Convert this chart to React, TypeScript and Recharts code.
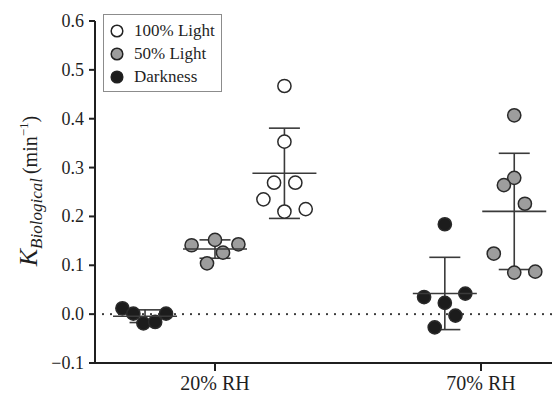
import React from 'react';
import { ScatterChart, Scatter, XAxis, YAxis, ErrorBar, ReferenceLine, Legend } from 'recharts';

// Categories (x axis) and y ticks
const categories = ['20% RH', '70% RH'];
const categoryTicks = [1, 2];
const yTicks = [-0.1, 0, 0.1, 0.2, 0.3, 0.4, 0.5, 0.6];

// Series names
const seriesNames = ['100% Light', '50% Light', 'Darkness'];

// Values (K_Biological, min^-1)
const light100RH20 = [0.467, 0.353, 0.269, 0.269, 0.235, 0.210, 0.215];
const light50RH20 = [0.141, 0.152, 0.143, 0.126, 0.104];
const darkRH20 = [0.012, 0.001, -0.019, -0.016, 0.001];
const darkRH70 = [0.184, 0.035, 0.042, 0.023, -0.003, -0.027];
const light50RH70 = [0.407, 0.279, 0.264, 0.226, 0.124, 0.085, 0.087];

// Horizontal jitter of each point (x-axis units) as in the picture
const light100RH20Jitter = [0, 0, -0.039, 0.041, -0.079, 0, 0.080];
const light50RH20Jitter = [-0.088, 0, 0.088, 0.030, -0.030];
const darkRH20Jitter = [-0.085, -0.044, -0.006, 0.038, 0.079];
const darkRH70Jitter = [0, -0.078, 0.077, 0, 0.040, -0.038];
const light50RH70Jitter = [0, 0, -0.039, 0.040, -0.077, 0, 0.079];

// Group centre offsets from the category (x-axis units)
const groupOffsetRH20 = { light100: 0.261, light50: 0, dark: -0.263 };
const groupOffsetRH70 = { light50: 0.125, dark: -0.136 };

type Pt = { x: number; y: number };
const toPoints = (cat: number, offset: number, values: number[], jitter: number[]): Pt[] =>
  values.map((v, i) => ({ x: cat + offset + jitter[i], y: v }));

const mean = (a: number[]) => a.reduce((s, v) => s + v, 0) / a.length;
const sd = (a: number[]) => {
  const m = mean(a);
  return Math.sqrt(a.reduce((s, v) => s + (v - m) * (v - m), 0) / (a.length - 1));
};
const summary = (cat: number, offset: number, values: number[]) => ({
  x: cat + offset,
  y: mean(values),
  sd: sd(values),
});

const light100Data = toPoints(1, groupOffsetRH20.light100, light100RH20, light100RH20Jitter);
const light50Data = [
  ...toPoints(1, groupOffsetRH20.light50, light50RH20, light50RH20Jitter),
  ...toPoints(2, groupOffsetRH70.light50, light50RH70, light50RH70Jitter),
];
const darkData = [
  ...toPoints(1, groupOffsetRH20.dark, darkRH20, darkRH20Jitter),
  ...toPoints(2, groupOffsetRH70.dark, darkRH70, darkRH70Jitter),
];
const summaryData = [
  summary(1, groupOffsetRH20.dark, darkRH20),
  summary(1, groupOffsetRH20.light50, light50RH20),
  summary(1, groupOffsetRH20.light100, light100RH20),
  summary(2, groupOffsetRH70.dark, darkRH70),
  summary(2, groupOffsetRH70.light50, light50RH70),
];

const FONT = "'Liberation Serif', 'Times New Roman', 'DejaVu Serif', serif";
const INK = '#1f1f1f';
const BAR = '#3a3a3a';
const fills: Record<string, string> = {
  '100% Light': '#ffffff',
  '50% Light': '#9d9d9d',
  Darkness: '#1c1c1c',
};

const makeDot = (fill: string) => (props: any) => (
  <circle cx={props.cx} cy={props.cy} r={6.6} fill={fill} stroke="#2a2a2a" strokeWidth={1.5} />
);

const MeanLine = (props: any) => (
  <line x1={props.cx - 32} x2={props.cx + 32} y1={props.cy} y2={props.cy} stroke={BAR} strokeWidth={1.6} />
);

const fmtY = (v: number) => (v < 0 ? '\u2212' + Math.abs(v).toFixed(1) : v.toFixed(1));

const AxisTick = (size: number, anchor: 'middle' | 'end', fmt: (v: number) => string, dyv: number) => (props: any) => {
  const { x, y, payload } = props;
  return (
    <text x={x} y={y} dy={dyv} textAnchor={anchor} fill={INK} style={{ fontFamily: FONT, fontSize: size }}>
      {fmt(payload.value)}
    </text>
  );
};

const LegendBox = () => (
  <div
    style={{
      border: '1.5px solid #8c8c8c',
      background: '#fff',
      padding: '4px 0 3px 6px',
      fontFamily: FONT,
      fontSize: 17,
      color: INK,
      boxSizing: 'border-box',
      width: 119,
    }}
  >
    {seriesNames.map((n) => (
      <div key={n} style={{ display: 'flex', alignItems: 'center', height: 23 }}>
        <svg width={16} height={16} style={{ marginRight: 8 }}>
          <circle cx={7} cy={8} r={5.8} fill={fills[n]} stroke="#222" strokeWidth={1.5} />
        </svg>
        <span style={{ lineHeight: '23px', fontFamily: FONT }}>{n}</span>
      </div>
    ))}
  </div>
);

const YTitle = () => (
  <text transform="translate(37,191) rotate(-90)" textAnchor="middle" fill={INK} style={{ fontFamily: FONT }}>
    <tspan fontStyle="italic" fontSize={26}>K</tspan>
    <tspan fontStyle="italic" fontSize={17} dy={5}>Biological</tspan>
    <tspan fontSize={20} dy={-5} dx={4}>(min</tspan>
    <tspan fontSize={13} dy={-9}>{'\u22121'}</tspan>
    <tspan fontSize={20} dy={9}>)</tspan>
  </text>
);

export default function App() {
  return (
    <div style={{ position: 'absolute', left: 0, top: 0, width: 552, height: 404, background: '#fff', fontFamily: FONT }}>
      <ScatterChart width={552} height={404} margin={{ top: 21, right: 0, bottom: 0, left: 0 }} style={{ fontFamily: FONT }}>
        <XAxis
          type="number"
          dataKey="x"
          domain={[0.54887, 2.26692]}
          allowDataOverflow
          ticks={categoryTicks}
          height={41}
          tickSize={8}
          tickMargin={4}
          axisLine={{ stroke: INK, strokeWidth: 2 }}
          tickLine={{ stroke: INK, strokeWidth: 2 }}
          tick={AxisTick(20, 'middle', (v: number) => categories[Math.round(v) - 1], 15)}
        />
        <YAxis
          type="number"
          dataKey="y"
          domain={[-0.1, 0.6]}
          ticks={yTicks}
          width={95}
          tickSize={6}
          tickMargin={5}
          axisLine={{ stroke: INK, strokeWidth: 2 }}
          tickLine={{ stroke: INK, strokeWidth: 2 }}
          tick={AxisTick(18, 'end', fmtY, 6)}
          label={{ content: () => <YTitle /> }}
        />
        <ReferenceLine y={0} stroke="#333" strokeWidth={2.2} strokeDasharray="0 8" strokeLinecap="round" />
        <Legend
          layout="vertical"
          align="center"
          verticalAlign="middle"
          content={() => <LegendBox />}
          wrapperStyle={{ position: 'absolute', left: 103, top: 14, width: 119 }}
        />
        <Scatter name="100% Light" data={light100Data} fill="#ffffff" shape={makeDot(fills['100% Light'])} isAnimationActive={false} />
        <Scatter name="50% Light" data={light50Data} fill="#9d9d9d" shape={makeDot(fills['50% Light'])} isAnimationActive={false} />
        <Scatter name="Darkness" data={darkData} fill="#1c1c1c" shape={makeDot(fills['Darkness'])} isAnimationActive={false} />
        <Scatter name="summary" legendType="none" data={summaryData} shape={MeanLine} isAnimationActive={false}>
          <ErrorBar dataKey="sd" direction="y" width={15.5} stroke={BAR} strokeWidth={1.6} isAnimationActive={false} />
        </Scatter>
      </ScatterChart>
    </div>
  );
}
